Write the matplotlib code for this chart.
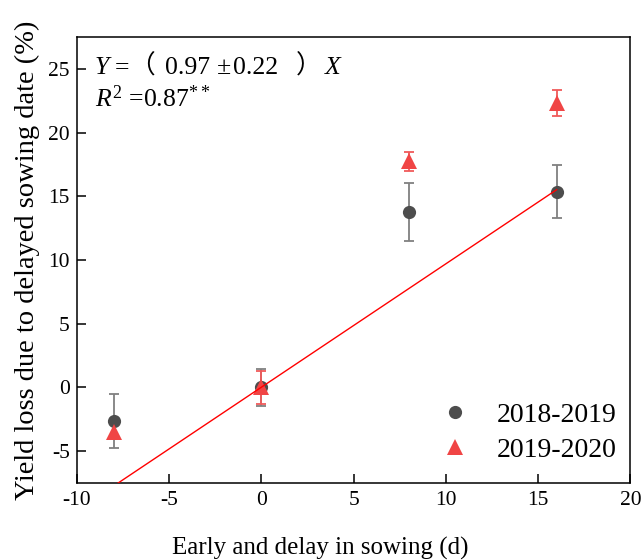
import matplotlib
matplotlib.use("Agg")
import matplotlib.pyplot as plt
from matplotlib.offsetbox import TextArea, HPacker, VPacker, AnchoredOffsetbox, DrawingArea

plt.rcParams['font.family'] = ['Liberation Serif', 'Noto Sans CJK SC']
plt.rcParams['mathtext.fontset'] = 'custom'
plt.rcParams['mathtext.rm'] = 'Liberation Serif'
plt.rcParams['mathtext.it'] = 'Liberation Serif:italic'
plt.rcParams['axes.unicode_minus'] = False

# data
days = [-8, 0, 8, 16]
loss_1819 = [-2.65, 0.0, 13.78, 15.37]
err_1819 = [2.15, 1.45, 2.25, 2.06]
loss_1920 = [-3.5, 0.0, 17.75, 22.35]
err_1920 = [0.6, 1.3, 0.74, 1.02]
fit_slope = 0.97
fit_x = [-8, 16]

fig = plt.figure(figsize=(6.42, 5.6), dpi=100)
ax = fig.add_axes([0.1195, 0.138, 0.8625, 0.7955])

ax.errorbar(days, loss_1819, yerr=err_1819, fmt='none', ecolor='#808080',
            elinewidth=1.3, capsize=3.5, capthick=1.3, zorder=2)
ax.errorbar(days, loss_1920, yerr=err_1920, fmt='none', ecolor='#f05a5a',
            elinewidth=1.3, capsize=3.5, capthick=1.3, zorder=3)
ax.plot(days, loss_1819, 'o', color='#4d4d4d', ms=9.5, mew=0, label='2018-2019', zorder=4)
ax.plot(days, loss_1920, '^', color='#f04545', ms=12, mew=0, label='2019-2020', zorder=5)
ax.plot(fit_x, [fit_slope * x for x in fit_x], color='red', lw=1.0, zorder=6)

ax.set_xlim(-10, 20)
ax.set_ylim(-7.5, 27.5)
ax.set_xticks([-10, -5, 0, 5, 10, 15, 20])
ax.set_yticks([-5, 0, 5, 10, 15, 20, 25])
ax.tick_params(direction='in', length=6.5, width=1.1, labelsize=15.5)
ax.tick_params(axis='x', pad=6)
ax.tick_params(axis='y', pad=5)
for s in ax.spines.values():
    s.set_linewidth(1.1)

ax.set_xlabel('Early and delay in sowing (d)', fontsize=18, labelpad=19)
ax.xaxis.label.set_x(0.44)
ax.set_ylabel('Yield loss due to delayed sowing date (%)', fontsize=20.5, labelpad=6)

leg = ax.legend(loc='lower right', frameon=False, fontsize=20,
                handletextpad=0.5, labelspacing=0.33, borderaxespad=0.45,
                bbox_to_anchor=(1.018, -0.008))

# regression equation, pieces spaced like the original
fs = 18.5
ital = dict(fontsize=fs, style='italic', family='Liberation Serif')
norm = dict(fontsize=fs, family=['Liberation Serif', 'Noto Sans CJK SC'])


def gap(px):
    return DrawingArea(px * 0.72, 1)


line1 = HPacker(children=[TextArea('Y', textprops=ital), gap(5.5),
                          TextArea('=', textprops=norm),
                          TextArea('\uff08', textprops=norm), gap(9.5),
                          TextArea('0.97', textprops=norm), gap(7),
                          TextArea('\u00b1', textprops=norm), gap(2),
                          TextArea('0.22', textprops=norm), gap(18),
                          TextArea('\uff09', textprops=norm), gap(3),
                          TextArea('X', textprops=ital)],
                align='baseline', pad=0, sep=0)
line2 = TextArea(r'$R^2$ =0.87$^{**}$', textprops=dict(fontsize=fs))
box = VPacker(children=[line1, line2], align='left', pad=0, sep=5)
anch = AnchoredOffsetbox(loc='upper left', child=box, pad=0, borderpad=0,
                         frameon=False, bbox_to_anchor=(0.033, 0.962),
                         bbox_transform=ax.transAxes)
ax.add_artist(anch)

fig.savefig('out.png', dpi=100)
